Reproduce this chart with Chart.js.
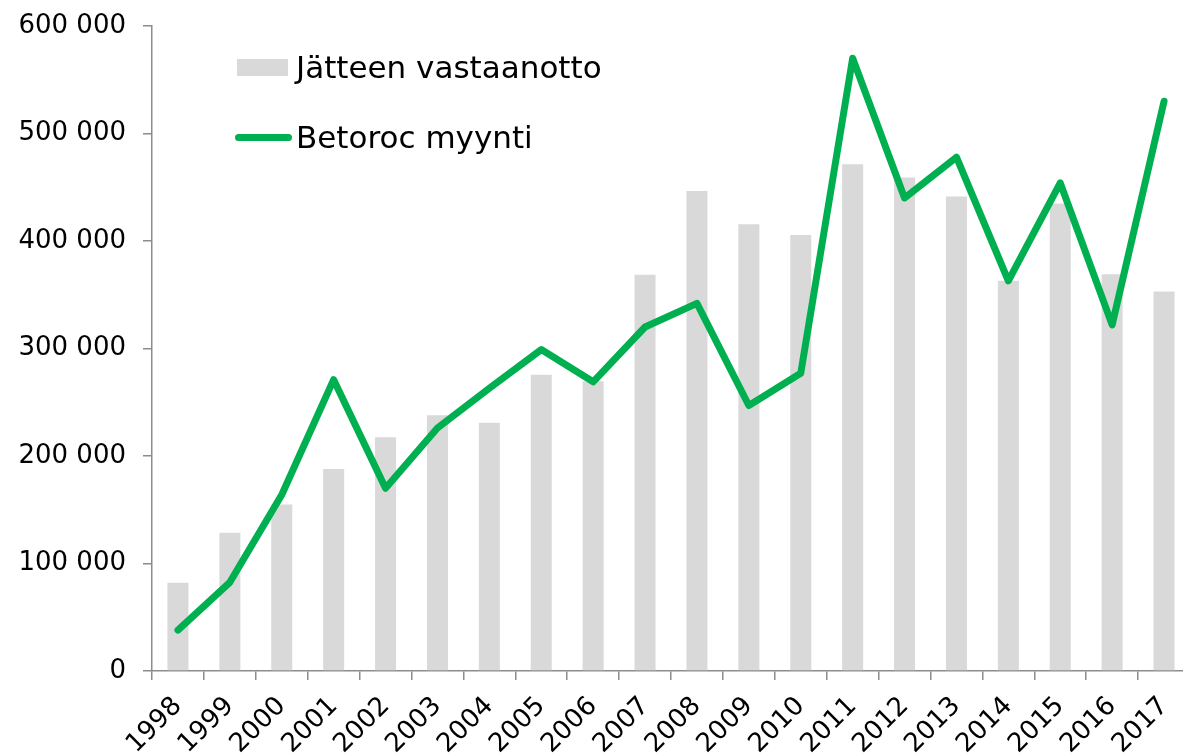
<!DOCTYPE html>
<html>
<head>
<meta charset="utf-8">
<script src="https://cdn.jsdelivr.net/npm/chart.js@4.4.1/dist/chart.umd.min.js"></script>
<style>
    html, body { margin: 0; padding: 0; overflow: hidden; background: #fff; }
    #wrap { position: absolute; left: 0; top: 0; width: 1190px; height: 753px; }
    .legend { position: absolute; left: 0; top: 0; font-family: 'DejaVu Sans', sans-serif; font-size: 31px; color: #000; }
    .legend .item { position: absolute; white-space: nowrap; display: flex; align-items: center; height: 40px; }
    .legend .box { width: 51px; height: 17px; background: #d9d9d9; margin-right: 8px; }
    .legend .ln { width: 57px; height: 7px; border-radius: 4px; background: #00b050; margin-right: 4px; }
</style>
</head>
<body>
<div id="wrap">
    <canvas id="chart"></canvas>
    <div class="legend">
        <div class="item" style="left:237px; top:47px;"><span class="box"></span><span id="lbl_waste"></span></div>
        <div class="item" style="left:235px; top:117px;"><span class="ln"></span><span id="lbl_sales"></span></div>
    </div>
</div>
<script>
    const years = ['1998', '1999', '2000', '2001', '2002', '2003', '2004', '2005', '2006', '2007',
                   '2008', '2009', '2010', '2011', '2012', '2013', '2014', '2015', '2016', '2017'];
    // Jätteen vastaanotto (bars)
    const wasteReceived = [82000, 128500, 155000, 188000, 217500, 238000, 231000, 275500, 269500, 368500,
                           446500, 415500, 405500, 471500, 459000, 441500, 363000, 435000, 369000, 353000];
    // Betoroc myynti (line)
    const betorocSales = [38000, 82500, 164000, 271000, 170000, 226000, 263000, 299000, 269000, 320000,
                          342000, 247000, 277000, 570000, 440000, 478000, 363000, 454000, 322000, 530000];
    const seriesNames = ['Jätteen vastaanotto', 'Betoroc myynti'];
    const yTicks = [0, 100000, 200000, 300000, 400000, 500000, 600000];

    document.getElementById('lbl_waste').textContent = seriesNames[0];
    document.getElementById('lbl_sales').textContent = seriesNames[1];

    function formatThousands(value) {
        return String(value).replace(/\B(?=(\d{3})+(?!\d))/g, ' ');
    }

    const axisGrey = '#8c8c8c';
    const ctx = document.getElementById('chart').getContext('2d');
    const myChart = new Chart(ctx, {
        data: {
            labels: years,
            datasets: [{
                type: 'line',
                label: seriesNames[1],
                data: betorocSales,
                borderColor: '#00b050',
                backgroundColor: '#00b050',
                borderWidth: 7,
                borderJoinStyle: 'round',
                borderCapStyle: 'round',
                pointRadius: 0,
                tension: 0,
                fill: false,
                order: 0
            }, {
                type: 'bar',
                label: seriesNames[0],
                data: wasteReceived,
                backgroundColor: '#d9d9d9',
                borderWidth: 0,
                categoryPercentage: 1,
                barPercentage: 0.405,
                order: 1
            }]
        },
        options: {
            responsive: true,
            maintainAspectRatio: false,
            animation: false,
            layout: {
                padding: { top: 26, left: 0, right: 0, bottom: 0 }
            },
            plugins: {
                legend: { display: false },
                tooltip: { enabled: false }
            },
            scales: {
                x: {
                    offset: true,
                    border: { display: true, color: axisGrey, width: 1.5 },
                    grid: {
                        offset: true,
                        drawOnChartArea: false,
                        drawTicks: true,
                        tickLength: 9,
                        color: axisGrey,
                        lineWidth: 1.5
                    },
                    ticks: {
                        minRotation: 45,
                        maxRotation: 45,
                        autoSkip: false,
                        padding: 11,
                        color: '#000',
                        font: { family: 'DejaVu Sans', size: 26 }
                    },
                    afterFit: function(scale) {
                        scale.height = 82;
                        scale.paddingLeft = 0;
                        scale.paddingRight = 0;
                    }
                },
                y: {
                    min: 0,
                    max: 600000,
                    border: { display: true, color: axisGrey, width: 1.5 },
                    grid: {
                        drawOnChartArea: false,
                        drawTicks: true,
                        tickLength: 9,
                        color: axisGrey,
                        lineWidth: 1.5
                    },
                    afterBuildTicks: function(scale) {
                        scale.ticks = yTicks.map((v) => ({ value: v }));
                    },
                    ticks: {
                        padding: 17,
                        color: '#000',
                        font: { family: 'DejaVu Sans', size: 26 },
                        callback: function(value) {
                            return formatThousands(value);
                        }
                    },
                    afterFit: function(scale) {
                        scale.width = 152;
                        scale.paddingTop = 0;
                        scale.paddingBottom = 0;
                    }
                }
            }
        }
    });
</script>
</body>
</html>
